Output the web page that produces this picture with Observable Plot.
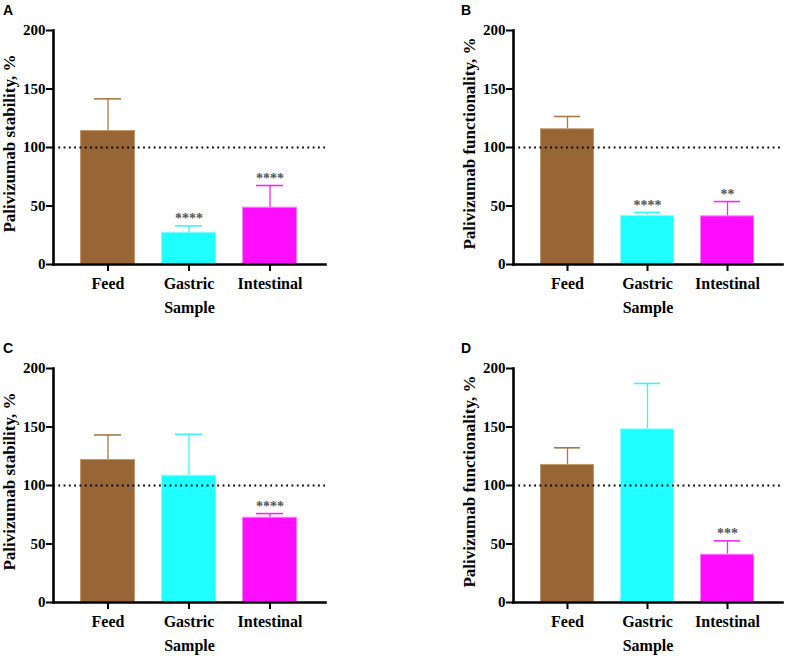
<!DOCTYPE html>
<html>
<head>
<meta charset="utf-8">
<script src="https://cdn.jsdelivr.net/npm/d3@7"></script>
<script src="https://cdn.jsdelivr.net/npm/@observablehq/plot@0.6"></script>
<style>
  html, body { margin: 0; padding: 0; background: #fff; overflow: hidden; }
  #root { position: relative; width: 787px; height: 656px; overflow: hidden; background: #fff; }
  .panel { position: absolute; }
  .panel svg { max-width: none !important; overflow: visible; }
  .panel svg text { font-family: "Liberation Serif", "Times New Roman", "DejaVu Serif", serif !important; }
  .letter { position: absolute; font-family: "Liberation Sans", Arial, sans-serif; font-weight: bold; font-size: 14px; line-height: 1; color: #000; z-index: 5; }
</style>
</head>
<body>
<div id="root"></div>
<script>
// ---- data ----
const categories = ["Feed", "Gastric", "Intestinal"];
const barColors = ["#986535", "#1fffff", "#ff0dff"];
const edgeColors = ["#c09870", "#8ffdff", "#ff80ff"];
const errColors = ["#a8794a", "#3af4f6", "#ee2cee"];

const panelLetters = ["A", "B", "C", "D"];
const yLabels = [
  "Palivizumab stability, %",
  "Palivizumab functionality, %",
  "Palivizumab stability, %",
  "Palivizumab functionality, %"
];
const yTicks = [0, 50, 100, 150, 200];
const referenceLine = [100];
const xLabel = "Sample";

const meanA = [114.5, 27.6, 49.0];
const errTopA = [141.6, 33.0, 67.5];
const starsA = ["", "****", "****"];

const meanB = [116.0, 42.0, 41.6];
const errTopB = [126.5, 44.5, 53.8];
const starsB = ["", "****", "**"];

const meanC = [122.2, 108.8, 72.9];
const errTopC = [143.2, 143.8, 76.0];
const starsC = ["", "", "****"];

const meanD = [118.0, 148.4, 41.3];
const errTopD = [132.2, 187.2, 52.7];
const starsD = ["", "", "***"];

const panelsData = [
  [meanA, errTopA, starsA],
  [meanB, errTopB, starsB],
  [meanC, errTopC, starsC],
  [meanD, errTopD, starsD]
];

// ---- layout ----
const positions = [
  {left: 0, top: 0, plotW: 272},
  {left: 460, top: 0, plotW: 269},
  {left: 0, top: 338, plotW: 272},
  {left: 460, top: 338, plotW: 269}
];
const letterPos = [
  {left: 3, top: 3},
  {left: 461, top: 3},
  {left: 3, top: 341},
  {left: 461, top: 341}
];

const root = document.getElementById("root");
const serif = "'Liberation Serif', 'Times New Roman', 'DejaVu Serif', serif";

function makePanel(i) {
  const [means, errs, stars] = panelsData[i];
  const data = categories.map((c, k) => ({
    cat: c, mean: means[k], err: errs[k], stars: stars[k],
    fill: barColors[k], edge: edgeColors[k], ecol: errColors[k]
  }));
  const mL = 53, mR = 5;
  const chart = Plot.plot({
    width: mL + positions[i].plotW + mR,
    height: 330,
    marginLeft: mL,
    marginRight: mR,
    marginTop: 30,
    marginBottom: 66,
    style: {fontFamily: serif, fontWeight: "bold", color: "#000", background: "transparent", overflow: "visible", maxWidth: "none"},
    x: {domain: categories, paddingInner: 0.32, paddingOuter: 0.333, axis: null},
    y: {domain: [0, 200], axis: null},
    color: {type: "identity"},
    marks: [
      Plot.barY(data, {x: "cat", y: "mean", fill: "fill", stroke: "edge", strokeWidth: 1, inset: 0.5}),
      Plot.ruleX(data, {x: "cat", y1: "mean", y2: "err", stroke: "ecol", strokeWidth: 1.3}),
      Plot.tickY(data, {x: "cat", y: "err", stroke: "ecol", strokeWidth: 1.6, insetLeft: 14, insetRight: 14}),
      Plot.ruleY(referenceLine, {stroke: "#000", strokeWidth: 2, strokeDasharray: "1.8,3.5"}),
      Plot.text(data, {x: "cat", y: "err", text: "stars", fill: "#555", fontSize: 14, dy: -7, fontWeight: "bold", fontFamily: serif}),
      Plot.axisY({ticks: yTicks, tickSize: 7, tickPadding: 1, strokeWidth: 2, fontSize: 15, label: null, fontFamily: serif, fontWeight: "bold"}),
      Plot.axisX({tickSize: 7, tickPadding: 6, strokeWidth: 2, fontSize: 16, label: null, fontFamily: serif, fontWeight: "bold"}),
      Plot.frame({anchor: "left", strokeWidth: 2.6}),
      Plot.frame({anchor: "bottom", strokeWidth: 2.6}),
      Plot.text([yLabels[i]], {frameAnchor: "left", textAnchor: "middle", rotate: -90, dx: -44, dy: -4, fontSize: 17, fill: "#000", fontFamily: serif, fontWeight: "bold"}),
      Plot.text([xLabel], {frameAnchor: "bottom", textAnchor: "middle", lineAnchor: "top", dy: 37, fontSize: 16, fill: "#000", fontFamily: serif, fontWeight: "bold"})
    ]
  });
  const wrap = document.createElement("div");
  wrap.className = "panel";
  wrap.style.left = positions[i].left + "px";
  wrap.style.top = positions[i].top + "px";
  wrap.style.width = (mL + positions[i].plotW + mR) + "px";
  wrap.appendChild(chart);
  root.appendChild(wrap);
}

for (let i = 0; i < 4; i++) makePanel(i);
for (let i = 0; i < 4; i++) {
  const lt = document.createElement("div");
  lt.className = "letter";
  lt.textContent = panelLetters[i];
  lt.style.left = letterPos[i].left + "px";
  lt.style.top = letterPos[i].top + "px";
  root.appendChild(lt);
}
</script>
</body>
</html>
